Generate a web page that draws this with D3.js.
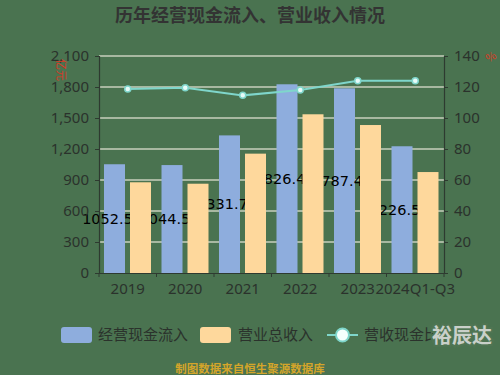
<!DOCTYPE html>
<html>
<head>
<meta charset="utf-8">
<script src="https://cdn.jsdelivr.net/npm/d3@7"></script>
<style>
  html, body { margin: 0; padding: 0; background: #4a7350; }
  svg { display: block; font-family: "Noto Sans CJK SC", "Noto Sans", sans-serif; }
</style>
</head>
<body>
<div id="chart"></div>
<script>
// Chart data
const categories = ['2019', '2020', '2021', '2022', '2023', '2024Q1-Q3'];
const cashInflow = [1052.5, 1044.5, 1331.7, 1826.4, 1787.4, 1226.5];
const revenue = [878, 864, 1155, 1536, 1432, 977];
const cashRatio = [118.7, 119.5, 114.6, 118.1, 124.1, 124.1];
const leftTicks = [0, 300, 600, 900, 1200, 1500, 1800, 2100];
const rightTicks = [0, 20, 40, 60, 80, 100, 120, 140];

const width = 500;
const height = 375;
const margins = { left: 99, right: 56, top: 56, bottom: 102 };
const innerWidth = width - margins.left - margins.right;
const innerHeight = height - margins.top - margins.bottom;

const blue = '#8eaddd';
const orange = '#fed89c';
const teal = '#7fd6cb';
const axisColor = '#2e3a30';
const textColor = '#2b322c';

const svg = d3.select('#chart').append('svg')
  .attr('width', width)
  .attr('height', height);

svg.append('rect').attr('width', width).attr('height', height).attr('fill', '#4a7350');

// Title
svg.append('text')
  .attr('x', 250).attr('y', 22)
  .attr('text-anchor', 'middle')
  .attr('font-size', 18).attr('font-weight', 'bold')
  .attr('fill', '#333')
  .text('历年经营现金流入、营业收入情况');

const g = svg.append('g')
  .attr('transform', `translate(${margins.left}, ${margins.top})`);

// Scales
const x = d3.scaleBand().domain(categories).range([0, innerWidth]);
const yLeft = d3.scaleLinear().domain([0, 2100]).range([innerHeight, 0]);
const yRight = d3.scaleLinear().domain([0, 140]).range([innerHeight, 0]);

// Grid lines
g.append('g')
  .selectAll('line')
  .data(leftTicks.slice(1))
  .join('line')
  .attr('x1', 0).attr('x2', innerWidth)
  .attr('y1', d => yLeft(d)).attr('y2', d => yLeft(d))
  .attr('stroke', '#c9cfbd').attr('stroke-width', 1.5);

// Bars
const barW = 21;
g.append('g')
  .selectAll('rect')
  .data(categories)
  .join('rect')
  .attr('x', d => x(d) + 5)
  .attr('y', (d, i) => yLeft(cashInflow[i]))
  .attr('width', barW)
  .attr('height', (d, i) => innerHeight - yLeft(cashInflow[i]))
  .attr('fill', blue);

// Labels of cash inflow (drawn under the revenue bars)
g.append('g')
  .selectAll('text')
  .data(categories)
  .join('text')
  .attr('x', d => x(d) + 5 + barW / 2 - 7)
  .attr('y', (d, i) => (yLeft(cashInflow[i]) + innerHeight) / 2)
  .attr('dy', '0.35em')
  .attr('text-anchor', 'middle')
  .attr('font-size', 14.5)
  .attr('font-family', 'DejaVu Sans, sans-serif')
  .attr('fill', '#000')
  .text((d, i) => cashInflow[i]);

g.append('g')
  .selectAll('rect')
  .data(categories)
  .join('rect')
  .attr('x', d => x(d) + 31)
  .attr('y', (d, i) => yLeft(revenue[i]))
  .attr('width', barW)
  .attr('height', (d, i) => innerHeight - yLeft(revenue[i]))
  .attr('fill', orange);

// Ratio line
const line = d3.line()
  .x(d => x(d.c) + x.bandwidth() / 2)
  .y(d => yRight(d.v));
const lineData = categories.map((c, i) => ({ c, v: cashRatio[i] }));

g.append('path')
  .datum(lineData)
  .attr('d', line)
  .attr('fill', 'none')
  .attr('stroke', teal)
  .attr('stroke-width', 2);

g.append('g')
  .selectAll('circle')
  .data(lineData)
  .join('circle')
  .attr('cx', d => x(d.c) + x.bandwidth() / 2)
  .attr('cy', d => yRight(d.v))
  .attr('r', 3)
  .attr('fill', '#e8fbf8')
  .attr('stroke', teal)
  .attr('stroke-width', 1.5);

// Axes
const styleAxis = sel => {
  sel.select('.domain').attr('stroke', axisColor).attr('stroke-width', 1.2);
  sel.selectAll('.tick line').attr('stroke', axisColor);
  sel.selectAll('.tick text')
    .attr('fill', textColor)
    .attr('font-size', 15)
    .attr('font-family', '"Noto Sans", sans-serif');
};

g.append('g')
  .call(d3.axisLeft(yLeft).tickValues(leftTicks).tickSize(4).tickPadding(6)
    .tickFormat(d3.format(',')))
  .call(styleAxis);

g.append('g')
  .attr('transform', `translate(${innerWidth}, 0)`)
  .call(d3.axisRight(yRight).tickValues(rightTicks).tickSize(4).tickPadding(6))
  .call(styleAxis);

const xAxis = g.append('g')
  .attr('transform', `translate(0, ${innerHeight})`)
  .call(d3.axisBottom(x).tickSize(0).tickPadding(10))
  .call(styleAxis);

// Tick marks at band boundaries
xAxis.append('g')
  .selectAll('line')
  .data(categories.concat(['end']))
  .join('line')
  .attr('x1', (d, i) => i * x.step()).attr('x2', (d, i) => i * x.step())
  .attr('y1', 0).attr('y2', 4)
  .attr('stroke', axisColor);

// Axis units
svg.append('text')
  .attr('transform', 'translate(57, 70) rotate(90)')
  .attr('text-anchor', 'middle')
  .attr('font-size', 11)
  .attr('fill', '#d83a26')
  .text('亿元');

svg.append('text')
  .attr('transform', 'translate(491, 57) rotate(-30)')
  .attr('text-anchor', 'middle')
  .attr('dy', '0.35em')
  .attr('font-size', 11)
  .attr('fill', '#d83a26')
  .text('%');

// Legend
const legend = svg.append('g').attr('font-size', 15).attr('fill', textColor);
legend.append('rect').attr('x', 61).attr('y', 327).attr('width', 31).attr('height', 16)
  .attr('rx', 3).attr('fill', blue);
legend.append('text').attr('x', 98).attr('y', 335).attr('dy', '0.35em').text('经营现金流入');
legend.append('rect').attr('x', 200).attr('y', 327).attr('width', 31).attr('height', 16)
  .attr('rx', 3).attr('fill', orange);
legend.append('text').attr('x', 238).attr('y', 335).attr('dy', '0.35em').text('营业总收入');
legend.append('line').attr('x1', 327).attr('x2', 358).attr('y1', 335).attr('y2', 335)
  .attr('stroke', teal).attr('stroke-width', 2);
legend.append('circle').attr('cx', 342.5).attr('cy', 335).attr('r', 6.5)
  .attr('fill', '#f4fffd').attr('stroke', teal).attr('stroke-width', 2);
legend.append('text').attr('x', 364).attr('y', 335).attr('dy', '0.35em').text('营收现金比');

// Watermark
svg.append('text')
  .attr('x', 492).attr('y', 343)
  .attr('text-anchor', 'end')
  .attr('font-size', 20).attr('font-weight', 'bold')
  .attr('fill', '#c9d0c9')
  .attr('stroke', '#4f7553').attr('stroke-width', 4)
  .attr('paint-order', 'stroke')
  .text('裕辰达');

// Footer
svg.append('text')
  .attr('x', 250).attr('y', 369)
  .attr('dy', '0.35em')
  .attr('text-anchor', 'middle')
  .attr('font-size', 11.5).attr('font-weight', 'bold')
  .attr('fill', '#d4a52a')
  .text('制图数据来自恒生聚源数据库');
</script>
</body>
</html>
